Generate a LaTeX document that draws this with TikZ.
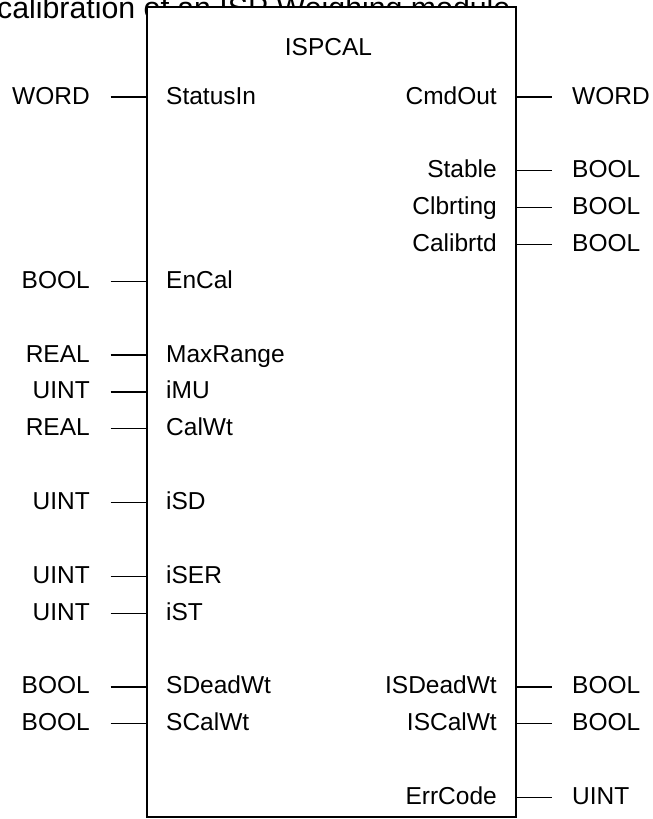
\documentclass[tikz,border=0pt]{standalone}
\usepackage{fontspec}
\setmainfont{Liberation Sans}
\usetikzlibrary{positioning,calc}

\tikzset{
	portname/.style={font=\fontsize{24.5}{29}\selectfont, inner sep=0pt, text height=17.5pt, text depth=3.5pt},
	stub/.style={line width=1.2pt, shorten <=20.5pt},
}

\begin{document}
\begin{tikzpicture}[x=1pt,y=-1pt]
	\useasboundingbox (0,0) rectangle (653,819);
	% caption line above the block, partly hidden by it
	\node[anchor=base west, inner sep=0pt, font=\fontsize{30.3}{36}\selectfont] (caption) at (-3,18) {calibration of an ISP Weighing module.};
	\node[draw, fill=white, line width=1.2pt, minimum width=369pt, minimum height=810pt, inner sep=0pt] (box) at (331.5,412) {};
	\node[portname, below=31pt of box.north, xshift=-3pt] (title) {ISPCAL};

	% inputs
	\foreach \k/\nm/\ty in {0/StatusIn/WORD, 5/EnCal/BOOL, 7/MaxRange/REAL, 8/iMU/UINT, 9/CalWt/REAL, 11/iSD/UINT, 13/iSER/UINT, 14/iST/UINT, 16/SDeadWt/BOOL, 17/SCalWt/BOOL}{
		\node[portname, anchor=west] (in-\k) at (166, 97+36.87*\k) {\nm};
		\node[portname, anchor=east] (tin-\k) at (90, 97+36.87*\k) {\ty};
		\draw[stub] (tin-\k.east) -- (box.west |- tin-\k.east);
	}

	% outputs
	\foreach \k/\nm/\ty in {0/CmdOut/WORD, 2/Stable/BOOL, 3/Clbrting/BOOL, 4/Calibrtd/BOOL, 16/ISDeadWt/BOOL, 17/ISCalWt/BOOL, 19/ErrCode/UINT}{
		\node[portname, anchor=east] (out-\k) at (497, 97+36.87*\k) {\nm};
		\node[portname, anchor=west] (tout-\k) at (572, 97+36.87*\k) {\ty};
		\draw[stub] (tout-\k.west) -- (box.east |- tout-\k.west);
	}
\end{tikzpicture}
\end{document}
